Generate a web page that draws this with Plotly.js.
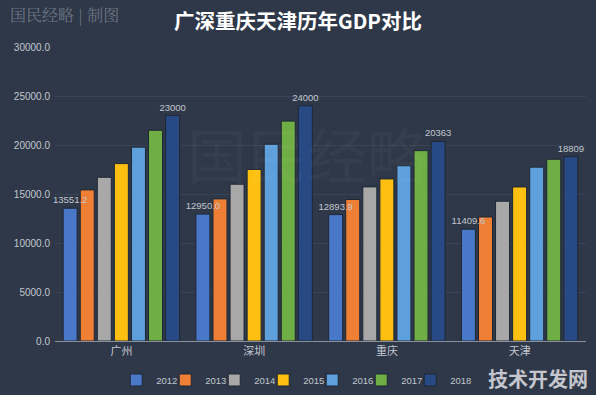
<!DOCTYPE html>
<html>
<head>
<meta charset="utf-8">
<script src="https://cdn.plot.ly/plotly-3.0.1.min.js"></script>
<style>html,body{margin:0;padding:0;background:#2e3849;}#chart{width:596px;height:395px;}</style>
</head>
<body>
<div id="chart"></div>
<script>
const cities = ["广州", "深圳", "重庆", "天津"];
const years = ["2012", "2013", "2014", "2015", "2016", "2017", "2018"];
const gdp2012 = [13551.2, 12950.0, 12893.9, 11409.6];
const gdp2013 = [15420.1, 14500.2, 14442.0, 12656.7];
const gdp2014 = [16706.9, 16001.8, 15726.9, 14262.6];
const gdp2015 = [18100.4, 17502.9, 16538.2, 15717.3];
const gdp2016 = [19782.2, 20079.7, 17885.4, 17740.6];
const gdp2017 = [21503.2, 22438.4, 19424.7, 18549.2];
const gdp2018 = [23000, 24000, 20363, 18809];
const colors = ["#4a78c8", "#ee7f35", "#a8a8a8", "#fdc010", "#5ea0dc", "#6fae45", "#274a85"];

const series = [gdp2012, gdp2013, gdp2014, gdp2015, gdp2016, gdp2017, gdp2018];
const groupWidth = 0.9, slot = groupWidth / series.length, barW = slot * 0.82;
const traces = series.map((vals, i) => {
  const t = {
    type: "bar",
    name: years[i],
    legendrank: 1000 + i,
    x: cities,
    y: vals,
    width: barW,
    offset: -groupWidth / 2 + i * slot + (slot - barW) / 2,
    marker: {color: colors[i], line: {color: "#1f2733", width: 1}},
    hoverinfo: "none"
  };
  if (i === 0 || i === 6) {
    t.text = vals.map(v => i === 0 ? v.toFixed(1) : String(v));
    t.textposition = "outside";
    t.cliponaxis = false;
    t.constraintext = "none";
    t.textfont = {color: "#c3c7cd", size: 9.5, family: "Liberation Sans, Arial"};
  }
  return t;
});
// draw the 2012 series last so its labels sit on top of the neighbouring bars
const ordered = traces.slice(1).concat([traces[0]]);
// empty legend spacer so the last legend label is not clipped
ordered.push({type: "bar", x: [null], y: [null], name: "", legendrank: 1100, showlegend: true,
              marker: {color: "rgba(0,0,0,0)", line: {width: 0}}, hoverinfo: "none"});

const layout = {
  width: 596, height: 395,
  paper_bgcolor: "#2e3849",
  plot_bgcolor: "#2e3849",
  margin: {l: 55, r: 10, t: 47, b: 54, autoexpand: false},
  title: {text: "<b>广深重庆天津历年GDP对比</b>", x: 0.5, xanchor: "center", yref: "container", y: 0.945, yanchor: "middle",
          font: {color: "#ffffff", size: 20.5, family: "Noto Sans CJK SC, sans-serif"}},
  barmode: "overlay",
  showlegend: true,
  legend: {orientation: "h", xref: "container", yref: "container", x: 0.195, xanchor: "left", y: 0.038, yanchor: "middle",
           font: {color: "#c3c7cd", size: 9.5, family: "Liberation Sans, Arial"},
           itemwidth: 30, entrywidth: 4, tracegroupgap: 0, traceorder: "normal", bgcolor: "rgba(0,0,0,0)"},
  xaxis: {
    showgrid: false, zeroline: false,
    showline: true, linecolor: "#8a919c", linewidth: 1,
    tickfont: {color: "#c3c7cd", size: 11, family: "Noto Sans CJK SC, sans-serif"},
    ticks: ""
  },
  yaxis: {
    range: [0, 30000], dtick: 5000, tickformat: ".1f",
    showgrid: true, gridcolor: "#3a4457", gridwidth: 1,
    zeroline: false, showline: false,
    tickfont: {color: "#c3c7cd", size: 10, family: "Liberation Sans, Arial"},
    ticks: "", ticklabelstandoff: 4
  },
  annotations: [
    {text: "国民经略 | 制图", xref: "paper", yref: "paper", x: -0.0885, y: 1.157, xanchor: "left", yanchor: "top",
     showarrow: false, font: {color: "#6c7482", size: 16, family: "Noto Serif CJK SC, Noto Sans CJK SC, serif"}},
    {text: "国民经略", xref: "paper", yref: "paper", x: 0.475, y: 0.64, xanchor: "center", yanchor: "middle",
     showarrow: false, font: {color: "rgba(255,255,255,0.03)", size: 60, family: "Noto Sans CJK SC, serif"}},
    {text: "<b>技术开发网</b>", xref: "paper", yref: "paper", x: 1.008, y: -0.126, xanchor: "right", yanchor: "middle",
     showarrow: false, font: {color: "rgba(225,225,230,0.85)", size: 20, family: "Noto Sans CJK SC, sans-serif"}}
  ]
};

Plotly.newPlot("chart", ordered, layout, {displayModeBar: false, staticPlot: true});
</script>
</body>
</html>
